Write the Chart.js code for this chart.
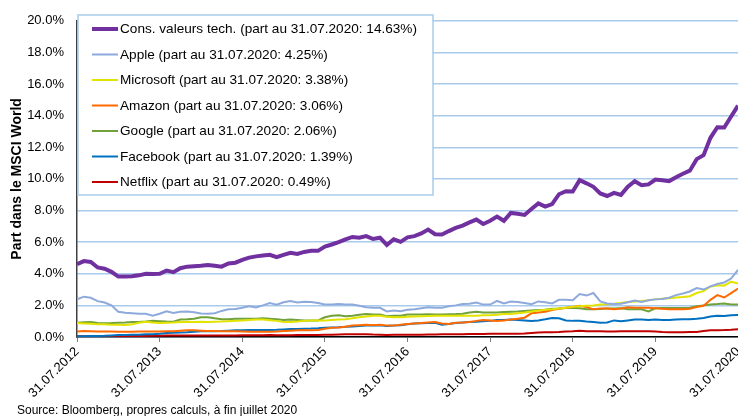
<!DOCTYPE html>
<html>
<head>
<meta charset="utf-8">
<title>Part dans le MSCI World</title>
<script src="https://cdn.jsdelivr.net/npm/chart.js@4.4.0/dist/chart.umd.min.js"></script>
<style>
  body { margin: 0; background: #fff; }
  #wrap { position: relative; width: 738px; height: 416px; }
  #source {
    position: absolute; left: 17px; top: 403px;
    font: 12px "Liberation Sans", Arial, sans-serif; line-height: 14px; color: #000;
  }
</style>
</head>
<body>
<div id="wrap">
  <canvas id="chart" width="738" height="416"></canvas>
  <div id="source">Source: Bloomberg, propres calculs, à fin juillet 2020</div>
</div>
<script>
// yearly tick labels (one every 12 months)
const tickLabels = ['31.07.2012', '31.07.2013', '31.07.2014', '31.07.2015', '31.07.2016',
  '31.07.2017', '31.07.2018', '31.07.2019', '31.07.2020'];

// monthly weights in %, 07.2012 .. 07.2020
const consTech = [4.6, 4.8, 4.75, 4.4, 4.32, 4.12, 3.82, 3.82, 3.84, 3.9,
  4.0, 3.98, 4.0, 4.2, 4.1, 4.35, 4.45, 4.48, 4.5, 4.55,
  4.5, 4.45, 4.65, 4.7, 4.88, 5.02, 5.1, 5.15, 5.2, 5.05,
  5.2, 5.32, 5.25, 5.38, 5.45, 5.45, 5.72, 5.85, 6.0, 6.18,
  6.33, 6.28, 6.38, 6.2, 6.28, 5.82, 6.18, 6.02, 6.3, 6.38,
  6.55, 6.8, 6.5, 6.48, 6.7, 6.9, 7.05, 7.25, 7.43, 7.15,
  7.35, 7.62, 7.35, 7.85, 7.8, 7.72, 8.1, 8.45, 8.25, 8.4,
  9.03, 9.22, 9.2, 9.92, 9.72, 9.5, 9.08, 8.92, 9.12, 8.99,
  9.5, 9.85, 9.6, 9.65, 9.96, 9.92, 9.86, 10.1, 10.33, 10.52,
  11.25, 11.5, 12.6, 13.27, 13.25, 13.95, 14.63];
const apple = [2.38, 2.55, 2.48, 2.27, 2.18, 2.0, 1.6, 1.53, 1.5, 1.47,
  1.47, 1.35, 1.47, 1.62, 1.52, 1.6, 1.62, 1.56, 1.48, 1.47,
  1.5, 1.65, 1.75, 1.77, 1.85, 1.94, 1.87, 2.0, 2.15, 2.04,
  2.2, 2.27, 2.18, 2.23, 2.22, 2.15, 2.06, 2.06, 2.08, 2.06,
  2.06, 1.98, 1.88, 1.85, 1.85, 1.62, 1.68, 1.63, 1.72, 1.75,
  1.82, 1.88, 1.85, 1.85, 1.95, 2.0, 2.08, 2.1, 2.18, 2.05,
  2.05, 2.28, 2.12, 2.25, 2.22, 2.15, 2.08, 2.25, 2.2, 2.12,
  2.35, 2.35, 2.32, 2.72, 2.62, 2.78, 2.25, 2.12, 2.08, 2.1,
  2.2, 2.3, 2.22, 2.32, 2.38, 2.4, 2.48, 2.65, 2.75, 2.88,
  3.1, 3.0, 3.2, 3.35, 3.45, 3.7, 4.25];
const microsoft = [0.88, 0.86, 0.84, 0.8, 0.8, 0.78, 0.77, 0.76, 0.8, 0.9,
  0.97, 0.92, 0.88, 0.9, 0.92, 0.95, 0.96, 0.95, 0.96, 0.95,
  0.97, 0.98, 1.0, 1.02, 1.05, 1.08, 1.1, 1.1, 1.06, 1.02,
  0.95, 0.95, 0.98, 1.02, 1.05, 1.05, 1.05, 1.08, 1.1, 1.12,
  1.18, 1.25, 1.3, 1.35, 1.35, 1.28, 1.25, 1.25, 1.28, 1.3,
  1.32, 1.33, 1.35, 1.35, 1.35, 1.35, 1.35, 1.35, 1.35, 1.38,
  1.38, 1.4, 1.45, 1.45, 1.5, 1.55, 1.62, 1.68, 1.72, 1.75,
  1.8, 1.85, 1.92, 1.95, 1.98, 2.0, 2.05, 2.07, 2.1, 2.15,
  2.22, 2.25, 2.28, 2.32, 2.38, 2.42, 2.45, 2.5, 2.53, 2.58,
  2.78, 2.9, 3.2, 3.28, 3.25, 3.5, 3.38];
const amazon = [0.35, 0.38, 0.37, 0.35, 0.35, 0.35, 0.33, 0.33, 0.33, 0.34,
  0.35, 0.35, 0.35, 0.36, 0.37, 0.4, 0.43, 0.42, 0.4, 0.38,
  0.38, 0.37, 0.37, 0.36, 0.35, 0.33, 0.33, 0.33, 0.33, 0.35,
  0.38, 0.4, 0.42, 0.42, 0.42, 0.45, 0.52, 0.58, 0.6, 0.65,
  0.72, 0.75, 0.78, 0.75, 0.78, 0.72, 0.72, 0.78, 0.82, 0.85,
  0.88, 0.92, 0.95, 0.85, 0.82, 0.9, 0.92, 0.95, 1.02, 1.08,
  1.05, 1.02, 1.05, 1.1, 1.15, 1.22, 1.5, 1.55, 1.6, 1.7,
  1.78, 1.85, 1.9, 1.98, 1.9, 1.75, 1.8, 1.8, 1.75, 1.8,
  1.88, 1.85, 1.85, 1.85, 1.82, 1.78, 1.75, 1.75, 1.75, 1.78,
  1.9, 1.98, 2.35, 2.65, 2.5, 2.78, 3.06];
const google = [0.9, 0.93, 0.95, 0.88, 0.87, 0.88, 0.9, 0.92, 0.95, 0.95,
  0.98, 1.02, 1.0, 0.98, 0.97, 1.1, 1.12, 1.15, 1.25, 1.25,
  1.18, 1.12, 1.12, 1.15, 1.15, 1.15, 1.15, 1.18, 1.15, 1.12,
  1.08, 1.1, 1.08, 1.05, 1.05, 1.05, 1.25, 1.35, 1.38, 1.32,
  1.35, 1.4, 1.45, 1.42, 1.42, 1.32, 1.35, 1.35, 1.42, 1.42,
  1.42, 1.44, 1.42, 1.42, 1.44, 1.45, 1.47, 1.55, 1.6, 1.55,
  1.55, 1.55, 1.58, 1.6, 1.62, 1.65, 1.68, 1.7, 1.72, 1.78,
  1.8, 1.84, 1.84, 1.82, 1.75, 1.75, 1.77, 1.8, 1.8, 1.82,
  1.75, 1.76, 1.76, 1.62, 1.82, 1.84, 1.83, 1.84, 1.84, 1.85,
  1.95, 2.0, 2.05, 2.08, 2.12, 2.06, 2.06];
const facebook = [0.05, 0.05, 0.06, 0.07, 0.08, 0.1, 0.12, 0.13, 0.14, 0.15,
  0.17, 0.18, 0.2, 0.25, 0.27, 0.28, 0.3, 0.33, 0.36, 0.37,
  0.37, 0.38, 0.4, 0.42, 0.42, 0.44, 0.45, 0.45, 0.45, 0.46,
  0.48, 0.5, 0.5, 0.52, 0.53, 0.55, 0.58, 0.6, 0.62, 0.65,
  0.67, 0.7, 0.72, 0.72, 0.75, 0.7, 0.72, 0.75, 0.8, 0.85,
  0.87, 0.88, 0.9, 0.78, 0.82, 0.88, 0.92, 0.95, 0.97, 1.0,
  1.02, 1.08, 1.08, 1.1, 1.08, 1.05, 1.02, 1.05, 1.12, 1.2,
  1.18, 1.05, 1.02, 1.02, 0.98, 0.95, 0.9, 0.92, 1.05, 1.0,
  1.05, 1.1, 1.1, 1.08, 1.1, 1.08, 1.08, 1.1, 1.12, 1.13,
  1.15, 1.2, 1.3, 1.35, 1.33, 1.38, 1.39];
const netflix = [0.05, 0.05, 0.05, 0.05, 0.05, 0.05, 0.06, 0.06, 0.06, 0.07,
  0.07, 0.08, 0.08, 0.09, 0.09, 0.1, 0.1, 0.1, 0.1, 0.1,
  0.1, 0.1, 0.1, 0.1, 0.11, 0.11, 0.11, 0.11, 0.12, 0.11,
  0.11, 0.11, 0.12, 0.12, 0.12, 0.13, 0.14, 0.15, 0.16, 0.17,
  0.17, 0.18, 0.18, 0.16, 0.15, 0.13, 0.14, 0.14, 0.14, 0.15,
  0.15, 0.16, 0.16, 0.17, 0.17, 0.18, 0.18, 0.19, 0.19, 0.19,
  0.2, 0.2, 0.21, 0.21, 0.2, 0.22, 0.25, 0.28, 0.3, 0.3,
  0.32, 0.35, 0.36, 0.4, 0.36, 0.37, 0.37, 0.35, 0.35, 0.36,
  0.37, 0.37, 0.37, 0.37, 0.35, 0.32, 0.3, 0.3, 0.3, 0.31,
  0.32, 0.38, 0.42, 0.43, 0.44, 0.46, 0.49];

const FONT = '"Liberation Sans", Arial, sans-serif';

function pts(arr) {
  return arr.map((v, i) => ({ x: i, y: v }));
}

function series(label, arr, color, width) {
  return {
    label: label, data: pts(arr), borderColor: color, backgroundColor: color,
    borderWidth: width, pointRadius: 0, tension: 0, fill: false
  };
}

// legend box drawn inside the plot, top left
const boxLegend = {
  id: 'boxLegend',
  afterDraw(chart) {
    const c = chart.ctx;
    c.save();
    c.fillStyle = '#fff';
    c.fillRect(78, 15, 355, 180);
    c.strokeStyle = '#A9CBEB';
    c.lineWidth = 1.5;
    c.strokeRect(78, 15, 355, 180);
    c.font = '13.6px ' + FONT;
    c.textBaseline = 'middle';
    chart.data.datasets.forEach((ds, i) => {
      const y = 29 + i * 25.5;
      c.strokeStyle = ds.borderColor;
      c.lineWidth = ds.borderWidth;
      c.beginPath();
      c.moveTo(92, y);
      c.lineTo(118, y);
      c.stroke();
      c.fillStyle = '#000';
      c.fillText(ds.label, 120, y + 0.5);
    });
    c.restore();
  }
};

new Chart(document.getElementById('chart'), {
  type: 'line',
  data: {
    datasets: [
      series('Cons. valeurs tech. (part au 31.07.2020: 14.63%)', consTech, '#7030A0', 4),
      series('Apple (part au 31.07.2020: 4.25%)', apple, '#8EA9DB', 2),
      series('Microsoft (part au 31.07.2020: 3.38%)', microsoft, '#E3E300', 2),
      series('Amazon (part au 31.07.2020: 3.06%)', amazon, '#FF6A00', 2),
      series('Google (part au 31.07.2020: 2.06%)', google, '#70A13A', 2),
      series('Facebook (part au 31.07.2020: 1.39%)', facebook, '#0070C0', 2),
      series('Netflix (part au 31.07.2020: 0.49%)', netflix, '#C00000', 2)
    ]
  },
  options: {
    responsive: false,
    animation: false,
    layout: { padding: { top: 15, right: 0, bottom: 0, left: 0 } },
    plugins: { legend: { display: false }, tooltip: { enabled: false } },
    scales: {
      x: {
        type: 'linear', min: 0, max: 96,
        ticks: {
          stepSize: 12, autoSkip: false, maxRotation: 45, minRotation: 45,
          padding: 2, color: '#000', font: { size: 13, family: FONT },
          callback: v => tickLabels[v / 12] || ''
        },
        grid: { drawOnChartArea: false, drawTicks: true, tickLength: 5, color: '#808080' },
        border: { color: '#000', width: 1.5 },
        afterFit: s => { s.height = 79; s.paddingLeft = 0; s.paddingRight = 0; }
      },
      y: {
        min: 0, max: 20,
        ticks: {
          stepSize: 2, padding: 13, color: '#000', font: { size: 13, family: FONT },
          callback: v => v.toFixed(1) + '%'
        },
        grid: { color: '#A9CBEB', lineWidth: 1.5, drawTicks: false },
        border: { color: '#404040', width: 1.5 },
        title: {
          display: true, text: 'Part dans le MSCI World', color: '#000',
          font: { size: 14, weight: 'bold', family: FONT }, padding: { top: 9, bottom: 0 }
        },
        afterFit: s => { s.width = 77; }
      }
    }
  },
  plugins: [boxLegend]
});
</script>
</body>
</html>
